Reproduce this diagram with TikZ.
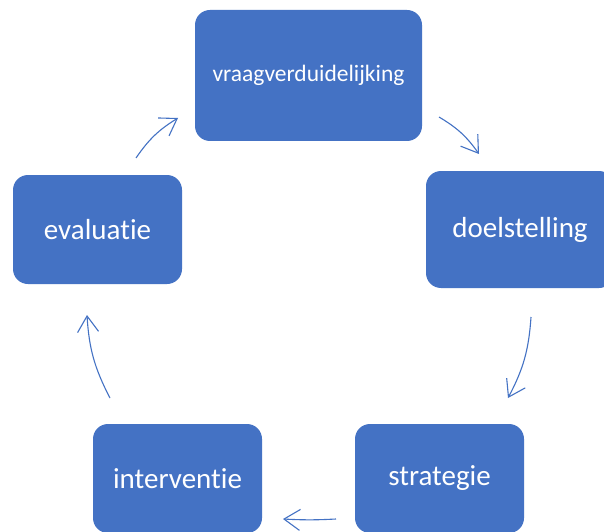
\documentclass[tikz,border=0pt]{standalone}
\usepackage{fontspec}
\setmainfont{Carlito}[Ligatures=NoCommon]
\usetikzlibrary{arrows.meta}
\definecolor{boxblue}{HTML}{4472C4}
\tikzset{
  cyclebox/.style={fill=boxblue, draw=none, rounded corners=15pt, text=white, inner sep=0pt, align=center,
    font=\fontsize{29}{32}\selectfont},
  cyclearrow/.style={draw=boxblue, line width=1.1pt, -{Straight Barb[length=16pt,width=21pt,line width=1.1pt]}, bend left=12}
}
\begin{document}
\begin{tikzpicture}[x=1pt,y=1pt]
\clip (0,0) rectangle (604,531);
\fill[white] (0,0) rectangle (604,531);
\node[cyclebox, minimum width=227pt, minimum height=131pt, font=\fontsize{23.5}{26}\selectfont] (vraag) at (308.5,455.5) {vraagverduidelijking};
\node[cyclebox, minimum width=188pt, minimum height=117pt] (doel) at (520,301.5) {doelstelling};
\node[cyclebox, minimum width=169pt, minimum height=109pt] (eval) at (97.5,301.5) {evaluatie};
\node[cyclebox, minimum width=169pt, minimum height=109pt] (interv) at (177.5,52.5) {interventie};
\node[cyclebox, minimum width=169pt, minimum height=109pt] (strat) at (439.5,52.5) {strategie};
\coordinate (a1s) at (136,373); \coordinate (a1e) at (178,413);
\coordinate (a2s) at (439,414); \coordinate (a2e) at (479,377);
\coordinate (a3s) at (531,214); \coordinate (a3e) at (508,133);
\coordinate (a4s) at (336,12);  \coordinate (a4e) at (283,12);
\coordinate (a5s) at (110,133); \coordinate (a5e) at (87,216);
\draw[cyclearrow] (a1s) to (a1e);
\draw[cyclearrow] (a2s) to (a2e);
\draw[cyclearrow] (a3s) to (a3e);
\draw[cyclearrow, bend left=3] (a4s) to (a4e);
\draw[cyclearrow] (a5s) to (a5e);
\end{tikzpicture}
\end{document}
